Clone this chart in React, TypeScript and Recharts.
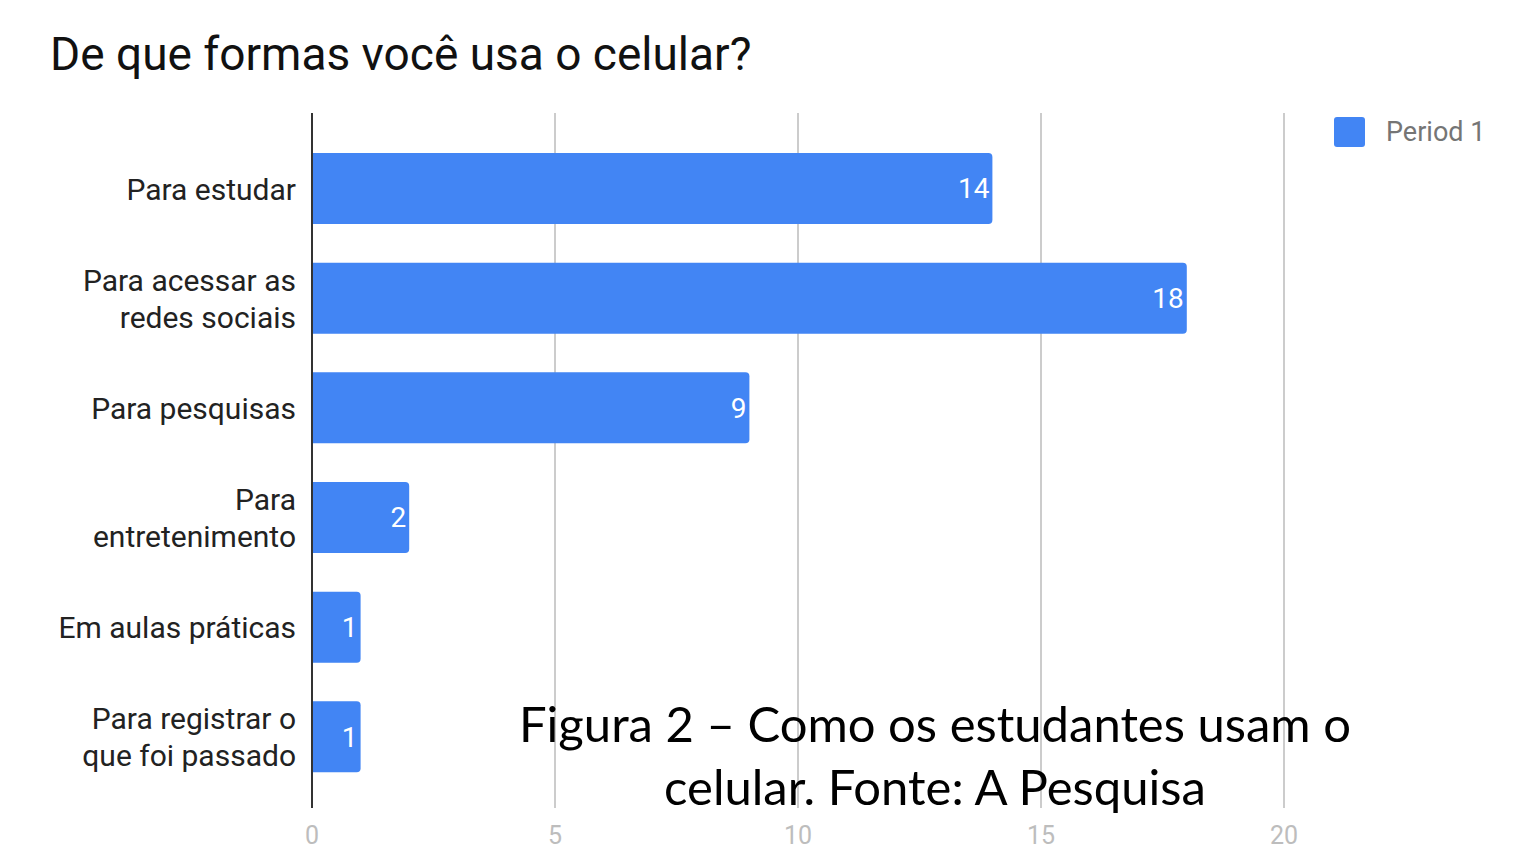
import React from 'react';
import { BarChart, Bar, XAxis, YAxis, CartesianGrid, LabelList } from 'recharts';

const categories = [
    'Para estudar',
    'Para acessar as redes sociais',
    'Para pesquisas',
    'Para entretenimento',
    'Em aulas práticas',
    'Para registrar o que foi passado'
];
const period1 = [14, 18, 9, 2, 1, 1];
const xTicks = [0, 5, 10, 15, 20];

const chartTitle = 'De que formas você usa o celular?';
const seriesName = 'Period 1';
const captionLines = ['Figura 2 – Como os estudantes usam o', 'celular. Fonte: A Pesquisa'];

const BLUE = '#4285f4';

// greedy word wrap, roughly what the source chart did
const wrap = (s: string, max: number) => {
    const words = s.split(' ');
    const lines: string[] = [];
    let cur = '';
    words.forEach(w => {
        const next = cur ? cur + ' ' + w : w;
        if (next.length > max && cur) {
            lines.push(cur);
            cur = w;
        } else {
            cur = next;
        }
    });
    if (cur) lines.push(cur);
    return lines;
};

const CategoryTick = (props: any) => {
    const { x, y, payload } = props;
    const lines = wrap(payload.value, 17);
    const lh = 37;
    const start = -((lines.length - 1) * lh) / 2;
    const tx = x - 10;
    return (
        <text x={tx} y={y} textAnchor="end" fill="#222" fontSize={30} fontFamily="Roboto">
            {lines.map((l, i) => (
                <tspan key={i} x={tx} y={y + start + i * lh} dy="0.36em">{l}</tspan>
            ))}
        </text>
    );
};

export default function App() {
    const data = categories.map((c, i) => ({ name: c, value: period1[i] }));

    return (
        <div style={{ position: 'absolute', left: 0, top: 0, width: 1514, height: 849, background: '#fff', overflow: 'hidden' }}>
            <div style={{ position: 'absolute', left: 50, top: 27, fontFamily: 'Roboto', fontSize: 46, color: '#111', whiteSpace: 'nowrap' }}>
                {chartTitle}
            </div>

            <BarChart
                width={1514}
                height={849}
                data={data}
                layout="vertical"
                margin={{ top: 113, right: 230, left: 12, bottom: 0 }}
                barCategoryGap={0}
            >
                <CartesianGrid horizontal={false} stroke="#cccccc" strokeWidth={2} />
                <XAxis
                    type="number"
                    domain={[0, 20]}
                    ticks={xTicks}
                    height={41}
                    axisLine={false}
                    tickLine={false}
                    tickMargin={12}
                    tick={{ fill: '#bdbdbd', fontSize: 25, fontFamily: 'Roboto' }}
                />
                <YAxis
                    type="category"
                    dataKey="name"
                    width={300}
                    padding={{ top: 21, bottom: 16 }}
                    axisLine={{ stroke: '#333', strokeWidth: 2 }}
                    tickLine={false}
                    tickMargin={0}
                    tick={<CategoryTick />}
                    interval={0}
                />
                <Bar dataKey="value" name={seriesName} fill={BLUE} barSize={71} radius={[0, 4, 4, 0]} isAnimationActive={false}>
                    <LabelList dataKey="value" position="insideRight" offset={3} fill="#fff" fontSize={28} fontFamily="Roboto" />
                </Bar>
            </BarChart>

            <div style={{ position: 'absolute', left: 1334, top: 116, display: 'flex', alignItems: 'center' }}>
                <div style={{ width: 31, height: 30, background: BLUE, borderRadius: 3 }} />
                <span style={{ marginLeft: 21, fontFamily: 'Roboto', fontSize: 27, color: '#757575' }}>{seriesName}</span>
            </div>

            <div style={{ position: 'absolute', left: 435, width: 1000, top: 692, textAlign: 'center', fontFamily: 'Lato', fontSize: 49, lineHeight: '63px', color: '#000' }}>
                {captionLines.map((l, i) => <div key={i}>{l}</div>)}
            </div>
        </div>
    );
}
